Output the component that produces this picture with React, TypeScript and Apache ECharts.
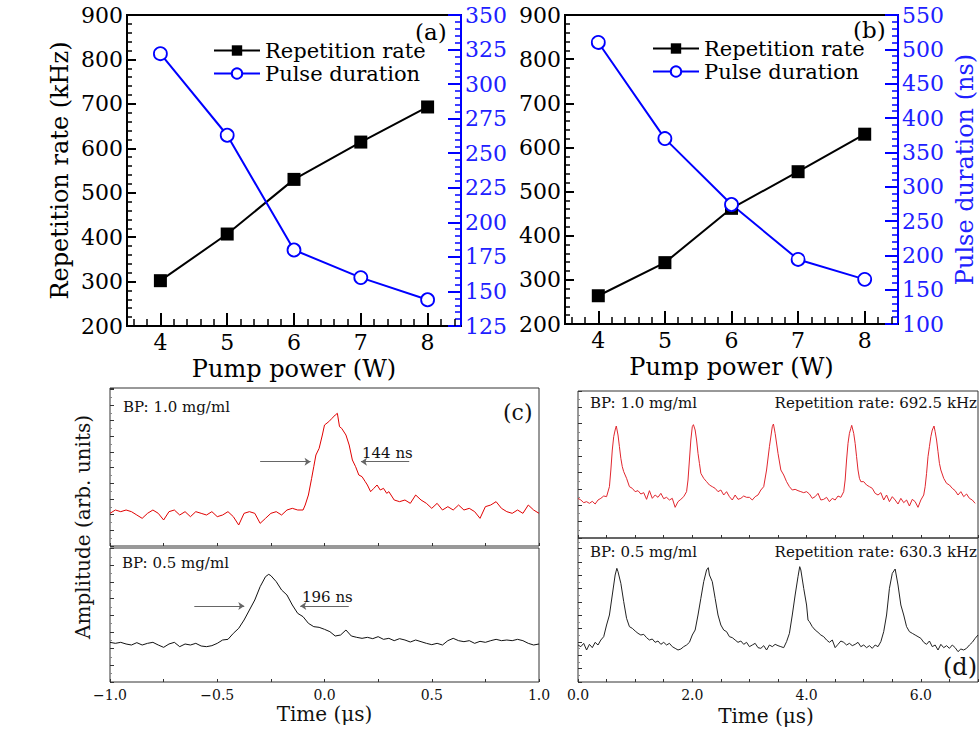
import React, { useEffect, useRef } from 'react';
import * as echarts from 'echarts';

// ---------- panels (a) and (b) ----------
const pumpPower = [4, 5, 6, 7, 8];
const repRateA = [302, 407, 530, 614, 693];
const pulseDurA = [322, 263, 180, 160, 144];
const repRateB = [264, 339, 462, 545, 630];
const pulseDurB = [510, 370, 274, 194, 165];
const xMajorTicks = [4, 5, 6, 7, 8];
const xMinorTicks = [3.6, 3.8, 4.2, 4.4, 4.6, 4.8, 5.2, 5.4, 5.6, 5.8, 6.2, 6.4, 6.6, 6.8, 7.2, 7.4, 7.6, 7.8, 8.2, 8.4];

// ---------- panel (c): single pulse traces [time µs, amplitude arb.] ----------
const pulse10 = [
  [-1.0, 98], [-0.975, 108], [-0.95, 103], [-0.925, 108], [-0.9, 103], [-0.875, 93], [-0.85, 83], [-0.825, 98],
  [-0.8, 108], [-0.775, 98], [-0.75, 78], [-0.725, 103], [-0.7, 108], [-0.675, 93], [-0.65, 103], [-0.625, 88],
  [-0.6, 103], [-0.575, 98], [-0.55, 93], [-0.525, 103], [-0.5, 88], [-0.475, 93], [-0.45, 103], [-0.425, 88],
  [-0.4, 63], [-0.375, 98], [-0.35, 103], [-0.325, 98], [-0.3, 68], [-0.275, 83], [-0.25, 98], [-0.225, 103],
  [-0.2, 93], [-0.175, 108], [-0.15, 113], [-0.125, 108], [-0.1, 108], [-0.09, 123], [-0.075, 153], [-0.06, 203],
  [-0.05, 238], [-0.04, 273], [-0.025, 293], [-0.01, 333], [0.0, 363], [0.02, 373], [0.035, 383], [0.05, 393],
  [0.06, 398], [0.07, 358], [0.08, 353], [0.1, 333], [0.115, 303], [0.13, 258], [0.145, 238], [0.16, 213],
  [0.175, 208], [0.19, 193], [0.2, 183], [0.215, 163], [0.23, 173], [0.245, 183], [0.26, 168], [0.275, 173],
  [0.29, 158], [0.3, 163], [0.325, 138], [0.35, 133], [0.375, 138], [0.4, 128], [0.425, 153], [0.45, 138],
  [0.475, 128], [0.5, 113], [0.525, 128], [0.55, 108], [0.575, 118], [0.6, 108], [0.625, 123], [0.65, 108],
  [0.675, 113], [0.7, 103], [0.725, 83], [0.75, 118], [0.775, 123], [0.8, 133], [0.825, 113], [0.85, 103],
  [0.875, 98], [0.9, 108], [0.925, 98], [0.95, 123], [0.975, 108], [1.0, 98],
];
const pulse05 = [
  [-1.0, 119], [-0.975, 116], [-0.95, 119], [-0.925, 114], [-0.9, 111], [-0.875, 118], [-0.85, 111], [-0.825, 116],
  [-0.8, 119], [-0.775, 111], [-0.75, 104], [-0.725, 114], [-0.7, 119], [-0.675, 106], [-0.65, 114], [-0.625, 111],
  [-0.6, 116], [-0.575, 108], [-0.55, 106], [-0.525, 109], [-0.5, 116], [-0.475, 126], [-0.45, 128], [-0.425, 146],
  [-0.4, 161], [-0.375, 186], [-0.35, 216], [-0.325, 246], [-0.3, 286], [-0.275, 316], [-0.26, 323], [-0.25, 319],
  [-0.225, 301], [-0.2, 276], [-0.175, 261], [-0.15, 231], [-0.125, 206], [-0.1, 196], [-0.075, 176], [-0.05, 166],
  [-0.025, 164], [0.0, 158], [0.025, 151], [0.05, 138], [0.075, 141], [0.1, 156], [0.125, 138], [0.15, 134],
  [0.175, 131], [0.2, 134], [0.225, 130], [0.25, 136], [0.275, 128], [0.3, 131], [0.325, 124], [0.35, 130],
  [0.375, 126], [0.4, 120], [0.425, 126], [0.45, 121], [0.475, 116], [0.5, 112], [0.525, 116], [0.55, 111],
  [0.575, 124], [0.6, 131], [0.625, 124], [0.65, 121], [0.675, 124], [0.7, 116], [0.725, 122], [0.75, 119],
  [0.775, 124], [0.8, 128], [0.825, 124], [0.85, 126], [0.875, 124], [0.9, 128], [0.925, 124], [0.95, 116],
  [0.975, 111], [1.0, 114],
];

// ---------- panel (d): pulse trains [time µs, amplitude arb.] ----------
const train10 = [
  [0, 119], [0.05, 114], [0.1, 106], [0.15, 109], [0.2, 104], [0.25, 110], [0.3, 102], [0.35, 114], [0.4, 119],
  [0.45, 126], [0.5, 124], [0.55, 154], [0.575, 204], [0.6, 264], [0.625, 304], [0.65, 324], [0.67, 336],
  [0.7, 309], [0.725, 274], [0.75, 239], [0.775, 214], [0.8, 199], [0.85, 179], [0.9, 154], [0.95, 149],
  [1.0, 139], [1.05, 142], [1.1, 132], [1.15, 136], [1.2, 116], [1.25, 142], [1.3, 119], [1.35, 129], [1.4, 122],
  [1.45, 134], [1.5, 118], [1.55, 122], [1.6, 114], [1.65, 119], [1.7, 92], [1.75, 109], [1.8, 116], [1.85, 124],
  [1.9, 139], [1.925, 174], [1.95, 234], [1.975, 294], [2.0, 334], [2.02, 340], [2.05, 324], [2.075, 294],
  [2.1, 254], [2.125, 224], [2.15, 194], [2.2, 179], [2.25, 169], [2.3, 159], [2.35, 154], [2.4, 149], [2.45, 139],
  [2.5, 144], [2.55, 129], [2.6, 139], [2.65, 124], [2.7, 114], [2.75, 129], [2.8, 116], [2.85, 119], [2.9, 126],
  [2.95, 122], [3.0, 122], [3.05, 114], [3.1, 124], [3.15, 129], [3.2, 144], [3.25, 154], [3.3, 204], [3.35, 274],
  [3.4, 334], [3.42, 342], [3.45, 314], [3.5, 254], [3.55, 204], [3.6, 189], [3.65, 169], [3.7, 154], [3.75, 144],
  [3.8, 146], [3.85, 142], [3.9, 139], [3.95, 136], [4.0, 139], [4.05, 132], [4.1, 119], [4.15, 124], [4.2, 134],
  [4.25, 114], [4.3, 116], [4.35, 122], [4.4, 109], [4.45, 119], [4.5, 114], [4.55, 126], [4.6, 122], [4.65, 139],
  [4.675, 174], [4.7, 234], [4.725, 284], [4.75, 314], [4.775, 329], [4.79, 338], [4.825, 314], [4.85, 284],
  [4.875, 244], [4.9, 204], [4.925, 179], [4.95, 169], [5.0, 169], [5.05, 159], [5.1, 154], [5.15, 149],
  [5.2, 134], [5.25, 129], [5.3, 136], [5.35, 114], [5.4, 129], [5.45, 109], [5.5, 124], [5.55, 114], [5.6, 102],
  [5.65, 119], [5.7, 106], [5.75, 114], [5.8, 96], [5.85, 116], [5.9, 109], [5.95, 92], [6.0, 114], [6.05, 129],
  [6.075, 154], [6.1, 194], [6.125, 244], [6.15, 274], [6.175, 304], [6.2, 324], [6.23, 336], [6.25, 319],
  [6.275, 294], [6.3, 259], [6.325, 224], [6.35, 204], [6.4, 179], [6.45, 164], [6.5, 159], [6.55, 149],
  [6.6, 142], [6.65, 129], [6.7, 139], [6.75, 124], [6.8, 132], [6.85, 119], [6.9, 114], [6.95, 104],
];
const train05 = [
  [0, 111], [0.05, 106], [0.1, 116], [0.15, 96], [0.2, 113], [0.25, 103], [0.3, 119], [0.35, 111], [0.4, 126],
  [0.45, 136], [0.5, 171], [0.55, 201], [0.6, 261], [0.65, 321], [0.68, 341], [0.7, 331], [0.75, 296], [0.8, 241],
  [0.85, 191], [0.9, 166], [0.95, 161], [1.0, 153], [1.05, 146], [1.1, 141], [1.15, 143], [1.2, 133], [1.25, 126],
  [1.3, 129], [1.35, 119], [1.4, 123], [1.45, 113], [1.5, 119], [1.55, 111], [1.6, 116], [1.65, 106], [1.7, 101],
  [1.75, 96], [1.8, 99], [1.85, 106], [1.9, 111], [1.95, 119], [2.0, 141], [2.05, 156], [2.1, 201], [2.15, 251],
  [2.2, 301], [2.25, 336], [2.28, 343], [2.3, 321], [2.35, 301], [2.4, 251], [2.45, 201], [2.5, 171], [2.55, 156],
  [2.6, 151], [2.65, 136], [2.7, 133], [2.75, 126], [2.8, 119], [2.85, 123], [2.9, 113], [2.95, 119], [3.0, 106],
  [3.05, 111], [3.1, 116], [3.15, 103], [3.2, 101], [3.25, 109], [3.3, 96], [3.35, 111], [3.4, 106], [3.45, 113],
  [3.5, 109], [3.55, 106], [3.6, 103], [3.65, 121], [3.7, 146], [3.75, 201], [3.8, 261], [3.85, 316], [3.88, 346],
  [3.9, 336], [3.95, 281], [4.0, 231], [4.025, 186], [4.05, 181], [4.1, 166], [4.15, 156], [4.2, 149], [4.25, 141],
  [4.3, 136], [4.35, 126], [4.4, 119], [4.45, 126], [4.5, 103], [4.55, 113], [4.6, 123], [4.65, 119], [4.7, 111],
  [4.75, 116], [4.8, 109], [4.85, 113], [4.9, 119], [4.95, 106], [5.0, 111], [5.05, 103], [5.1, 109], [5.15, 101],
  [5.2, 111], [5.25, 106], [5.3, 121], [5.35, 151], [5.4, 201], [5.45, 281], [5.5, 326], [5.55, 339], [5.6, 291],
  [5.65, 231], [5.7, 201], [5.75, 166], [5.8, 151], [5.85, 146], [5.9, 141], [5.95, 136], [6.0, 131], [6.05, 119],
  [6.1, 113], [6.15, 123], [6.2, 106], [6.25, 111], [6.3, 96], [6.35, 113], [6.4, 103], [6.45, 109], [6.5, 101],
  [6.55, 111], [6.6, 103], [6.65, 91], [6.7, 99], [6.75, 96], [6.8, 101], [6.85, 111], [6.9, 119], [6.95, 131],
  [7.0, 141],
];

// FWHM arrow annotations [start, end] in data coordinates
const arrows10 = [[[-0.3, 253], [-0.065, 253]], [[0.395, 253], [0.17, 253]]];
const arrows05 = [[[-0.607, 228], [-0.374, 228]], [[0.113, 228], [-0.113, 228]]];

const FAMILY = 'DejaVu Serif';
const BLUE = '#0000ff';
const BLUE_TEXT = '#2020ff';
const FRAME = '#333';

function topPanel(gi: number, leftMin: number, leftMax: number, leftInt: number,
  rightMin: number, rightMax: number, rightInt: number, rightName: string, leftName: string) {
  const xAxes = [
    {
      gridIndex: gi, type: 'value', position: 'bottom', min: 3.5, max: 8.5,
      axisLine: { show: true, onZero: false, lineStyle: { color: '#000', width: 2 } },
      axisTick: { show: true, inside: true, length: 13, customValues: xMajorTicks, lineStyle: { color: '#000', width: 2 } },
      axisLabel: { show: true, customValues: xMajorTicks, fontFamily: FAMILY, fontSize: 22, color: '#000', margin: 5 },
      splitLine: { show: false },
      name: 'Pump power (W)', nameLocation: 'middle', nameGap: 31,
      nameTextStyle: { fontFamily: FAMILY, fontSize: 24, color: '#000' },
    },
    {
      gridIndex: gi, type: 'value', position: 'bottom', min: 3.5, max: 8.5,
      axisLine: { show: false, onZero: false },
      axisTick: { show: true, inside: true, length: 7, customValues: xMinorTicks, lineStyle: { color: '#000', width: 1.5 } },
      axisLabel: { show: false },
      splitLine: { show: false },
    },
  ];
  const yAxes: any[] = [
    {
      gridIndex: gi, type: 'value', position: 'left', min: leftMin, max: leftMax, interval: leftInt,
      axisLine: { show: true, onZero: false, lineStyle: { color: '#000', width: 2 } },
      axisTick: { show: true, inside: true, length: 9, lineStyle: { color: '#000', width: 2 } },
      minorTick: { show: true, splitNumber: 5, length: 5, lineStyle: { color: '#000', width: 1.5 } },
      axisLabel: { fontFamily: FAMILY, fontSize: 22, color: '#000', margin: 4 },
      splitLine: { show: false }, minorSplitLine: { show: false },
      name: leftName, nameLocation: 'middle', nameGap: 55, nameRotate: 90,
      nameTextStyle: { fontFamily: FAMILY, fontSize: 24, color: '#000' },
    },
    {
      gridIndex: gi, type: 'value', position: 'right', min: rightMin, max: rightMax, interval: rightInt,
      axisLine: { show: true, onZero: false, lineStyle: { color: BLUE, width: 2 } },
      axisTick: { show: true, inside: true, length: 13, lineStyle: { color: BLUE, width: 2 } },
      minorTick: { show: true, splitNumber: 5, length: 6, lineStyle: { color: BLUE, width: 1.5 } },
      axisLabel: { fontFamily: FAMILY, fontSize: 22, color: BLUE_TEXT, margin: 4 },
      splitLine: { show: false }, minorSplitLine: { show: false },
      name: rightName, nameLocation: 'middle', nameGap: 55, nameRotate: 90,
      nameTextStyle: { fontFamily: FAMILY, fontSize: 24, color: BLUE_TEXT },
    },
  ];
  return { xAxes, yAxes };
}

function traceX(gi: number, min: number, max: number, interval: number, labels: boolean, fmt: (v: number) => string) {
  return {
    gridIndex: gi, type: 'value', position: 'bottom', min, max, interval,
    axisLine: { show: false, onZero: false },
    axisTick: { show: true, inside: true, length: 3, lineStyle: { color: FRAME, width: 1 } },
    axisLabel: { show: labels, fontFamily: FAMILY, fontSize: 14, color: '#111', margin: 6, formatter: fmt, showMinLabel: true, showMaxLabel: true },
    splitLine: { show: false },
  };
}
function traceY(gi: number, max: number, interval: number) {
  return {
    gridIndex: gi, type: 'value', position: 'left', min: 0, max, interval,
    axisLine: { show: false, onZero: false },
    axisTick: { show: true, inside: true, length: 4, lineStyle: { color: FRAME, width: 1 } },
    minorTick: { show: true, splitNumber: 2, length: 2, lineStyle: { color: '#888', width: 1 } },
    axisLabel: { show: false },
    splitLine: { show: false }, minorSplitLine: { show: false },
  };
}

const fmtC = (v: number) => {
  if (Math.abs(v * 2 - Math.round(v * 2)) > 1e-6) return '';
  return (v < -1e-9 ? '\u2212' : '') + Math.abs(v).toFixed(1);
};
const fmtD = (v: number) => (Math.abs(v / 2 - Math.round(v / 2)) > 1e-6 ? '' : v.toFixed(1));

function arrowMark(pairs: number[][][]) {
  return {
    silent: true,
    symbol: ['none', 'arrow'],
    symbolSize: 6,
    lineStyle: { color: '#666', width: 1, type: 'solid' },
    label: { show: false },
    emphasis: { disabled: true },
    data: pairs.map((p) => [{ coord: p[0] }, { coord: p[1] }]),
  };
}

function txt(text: string, x: number, y: number, size: number, align = 'left', color = '#111', rotation = 0) {
  return {
    type: 'text', x, y, rotation, silent: true,
    style: {
      text, fill: color, fontSize: size, fontFamily: FAMILY,
      align, verticalAlign: 'middle', textAlign: align, textVerticalAlign: 'middle',
    },
  };
}

export default function App() {
  const ref = useRef<HTMLDivElement>(null);
  useEffect(() => {
    if (!ref.current) return;
    const chart = echarts.init(ref.current, null, { renderer: 'svg' });
    const pa = topPanel(0, 200, 900, 100, 125, 350, 25, '', 'Repetition rate (kHz)');
    const pb = topPanel(1, 200, 900, 100, 100, 550, 50, 'Pulse duration (ns)', '');
    const gridBase = { show: true, containLabel: false, outerBoundsMode: 'none' };
    const legendBase = {
      orient: 'vertical', data: ['Repetition rate', 'Pulse duration'],
      itemWidth: 46, itemHeight: 13, itemGap: 0, selectedMode: false,
      textStyle: { fontFamily: FAMILY, fontSize: 21, color: '#000', lineHeight: 23 },
    };
    const option: any = {
      animation: false,
      backgroundColor: '#fff',
      textStyle: { fontFamily: FAMILY },
      grid: [
        { ...gridBase, left: 127, top: 15, width: 334, height: 311, borderColor: '#000', borderWidth: 2 },
        { ...gridBase, left: 565, top: 15, width: 333, height: 309, borderColor: '#000', borderWidth: 2 },
        { ...gridBase, left: 110, top: 388, width: 429, height: 158, borderColor: FRAME, borderWidth: 1 },
        { ...gridBase, left: 110, top: 548, width: 429, height: 134, borderColor: FRAME, borderWidth: 1 },
        { ...gridBase, left: 578, top: 391, width: 400, height: 147, borderColor: FRAME, borderWidth: 1 },
        { ...gridBase, left: 578, top: 538, width: 400, height: 144, borderColor: FRAME, borderWidth: 1 },
      ],
      legend: [
        { ...legendBase, left: 208, top: 34 },
        { ...legendBase, left: 647, top: 32 },
      ],
      xAxis: [
        ...pa.xAxes,
        ...pb.xAxes,
        traceX(2, -1, 1, 0.25, false, fmtC),
        { ...traceX(3, -1, 1, 0.25, true, fmtC), name: 'Time (\u03bcs)', nameLocation: 'middle', nameGap: 22, nameTextStyle: { fontFamily: FAMILY, fontSize: 20, color: '#111' } },
        traceX(4, 0, 7, 0.5, false, fmtD),
        traceX(5, 0, 7, 0.5, true, fmtD),
      ],
      yAxis: [
        ...pa.yAxes,
        ...pb.yAxes,
        traceY(2, 474, 47),
        traceY(3, 402, 50),
        traceY(4, 441, 49),
        traceY(5, 432, 40),
      ],
      series: [
        {
          type: 'line', name: 'Repetition rate', xAxisIndex: 0, yAxisIndex: 0,
          data: pumpPower.map((p, i) => [p, repRateA[i]]),
          symbol: 'rect', symbolSize: 13, itemStyle: { color: '#000' }, lineStyle: { color: '#000', width: 2 },
        },
        {
          type: 'line', name: 'Pulse duration', xAxisIndex: 0, yAxisIndex: 1,
          data: pumpPower.map((p, i) => [p, pulseDurA[i]]),
          symbol: 'circle', symbolSize: 13, itemStyle: { color: '#fff', borderColor: BLUE, borderWidth: 1.8 },
          lineStyle: { color: BLUE, width: 2 },
        },
        {
          type: 'line', name: 'Repetition rate', xAxisIndex: 2, yAxisIndex: 2,
          data: pumpPower.map((p, i) => [p, repRateB[i]]),
          symbol: 'rect', symbolSize: 13, itemStyle: { color: '#000' }, lineStyle: { color: '#000', width: 2 },
        },
        {
          type: 'line', name: 'Pulse duration', xAxisIndex: 2, yAxisIndex: 3,
          data: pumpPower.map((p, i) => [p, pulseDurB[i]]),
          symbol: 'circle', symbolSize: 13, itemStyle: { color: '#fff', borderColor: BLUE, borderWidth: 1.8 },
          lineStyle: { color: BLUE, width: 2 },
        },
        {
          type: 'line', name: 'BP 1.0 pulse', xAxisIndex: 4, yAxisIndex: 4, data: pulse10,
          showSymbol: false, symbol: 'none', silent: true, lineStyle: { color: '#e00000', width: 1 },
          markLine: arrowMark(arrows10),
        },
        {
          type: 'line', name: 'BP 0.5 pulse', xAxisIndex: 5, yAxisIndex: 5, data: pulse05,
          showSymbol: false, symbol: 'none', silent: true, lineStyle: { color: '#111', width: 1 },
          markLine: arrowMark(arrows05),
        },
        {
          type: 'line', name: 'BP 1.0 train', xAxisIndex: 6, yAxisIndex: 6, data: train10,
          showSymbol: false, symbol: 'none', silent: true, lineStyle: { color: '#e0262e', width: 1 },
        },
        {
          type: 'line', name: 'BP 0.5 train', xAxisIndex: 7, yAxisIndex: 7, data: train05,
          showSymbol: false, symbol: 'none', silent: true, lineStyle: { color: '#222', width: 1 },
        },
      ],
      graphic: [
        txt('(a)', 415, 32, 23, 'left', '#000'),
        txt('(b)', 853, 30, 23, 'left', '#000'),
        txt('BP: 1.0 mg/ml', 123, 407, 15),
        txt('BP: 0.5 mg/ml', 122, 563, 15),
        txt('144 ns', 362, 453, 15),
        txt('196 ns', 302, 597, 15),
        txt('(c)', 503, 412, 22),
        txt('Amplitude (arb. units)', 83, 527, 20, 'center', '#111', Math.PI / 2),
        txt('BP: 1.0 mg/ml', 590, 403, 15),
        txt('Repetition rate: 692.5 kHz', 977, 403, 15, 'right'),
        txt('BP: 0.5 mg/ml', 590, 552, 15),
        txt('Repetition rate: 630.3 kHz', 977, 552, 15, 'right'),
        txt('(d)', 943, 667, 24),
        txt('Time (\u03bcs)', 766, 716, 20, 'center'),
      ],
    };
    chart.setOption(option);
    return () => chart.dispose();
  }, []);
  return (
    <div
      ref={ref}
      style={{ position: 'absolute', left: 0, top: 0, width: 980, height: 730, background: '#fff' }}
    />
  );
}
